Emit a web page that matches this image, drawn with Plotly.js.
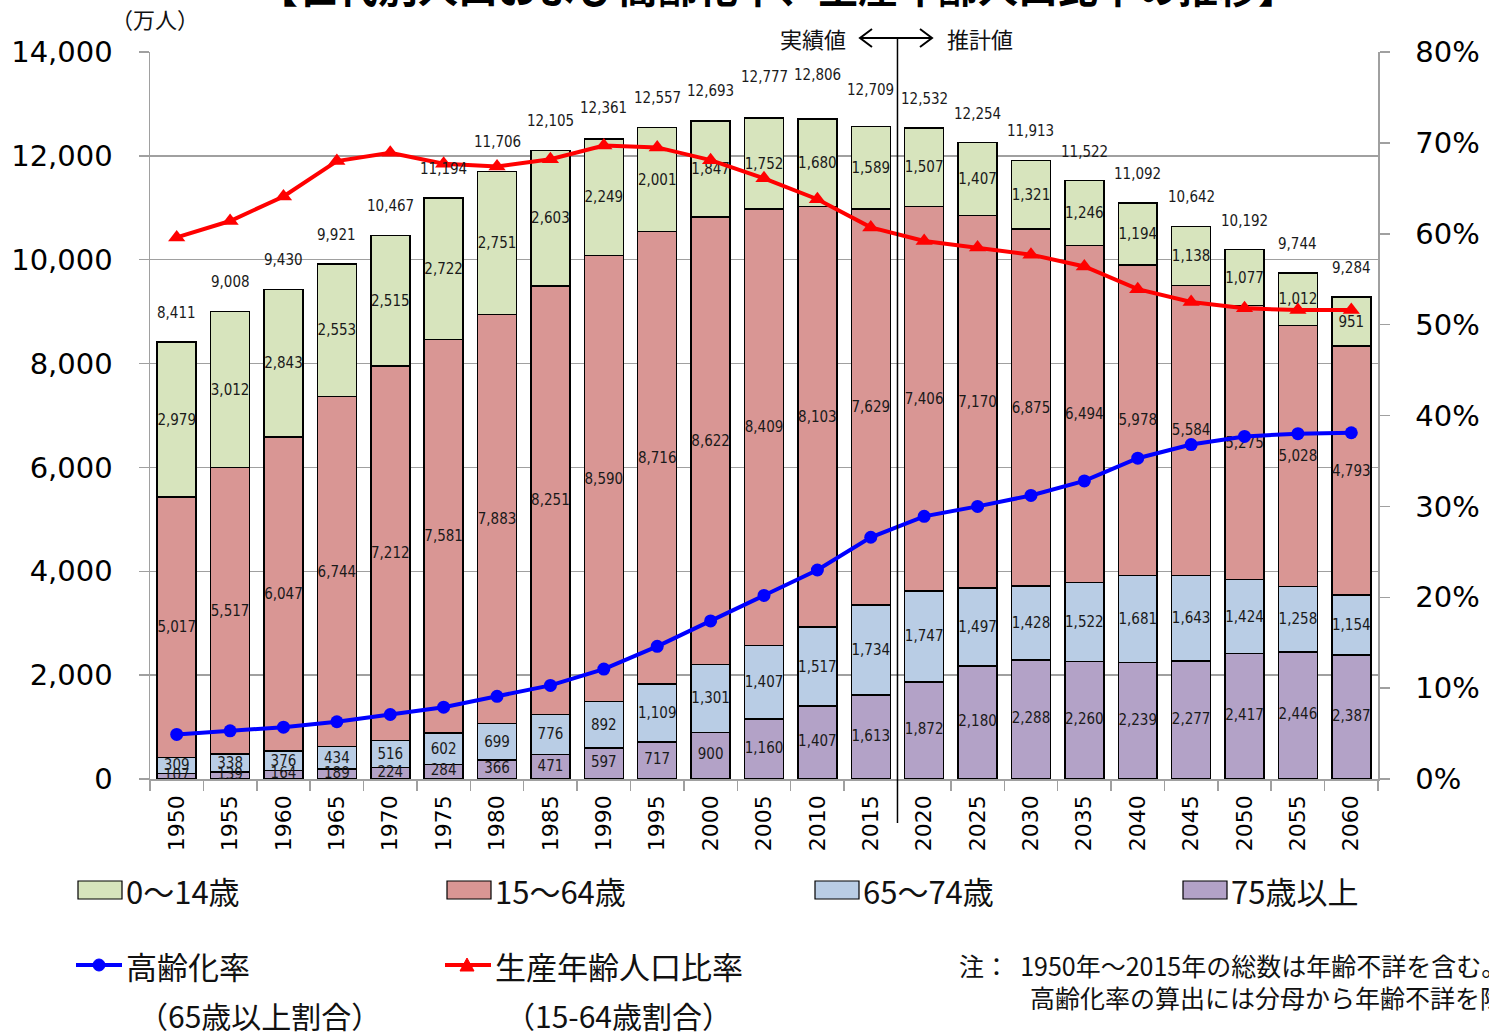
<!DOCTYPE html>
<html>
<head>
<meta charset="utf-8">
<script src="https://cdn.plot.ly/plotly-3.0.1.min.js"></script>
<style>html,body{margin:0;padding:0;background:#fff;}#chart{width:1489px;height:1032px;}</style>
</head>
<body>
<div id="chart"></div>
<script>
const years = ['1950','1955','1960','1965','1970','1975','1980','1985','1990','1995','2000','2005','2010','2015','2020','2025','2030','2035','2040','2045','2050','2055','2060'];
const age0_14  = [2979,3012,2843,2553,2515,2722,2751,2603,2249,2001,1847,1752,1680,1589,1507,1407,1321,1246,1194,1138,1077,1012,951];
const age15_64 = [5017,5517,6047,6744,7212,7581,7883,8251,8590,8716,8622,8409,8103,7629,7406,7170,6875,6494,5978,5584,5275,5028,4793];
const age65_74 = [309,338,376,434,516,602,699,776,892,1109,1301,1407,1517,1734,1747,1497,1428,1522,1681,1643,1424,1258,1154];
const age75up  = [107,139,164,189,224,284,366,471,597,717,900,1160,1407,1613,1872,2180,2288,2260,2239,2277,2417,2446,2387];
const totals   = [8411,9008,9430,9921,10467,11194,11706,12105,12361,12557,12693,12777,12806,12709,12532,12254,11913,11522,11092,10642,10192,9744,9284];
const agingRate   = [4.9,5.3,5.7,6.3,7.1,7.9,9.1,10.3,12.1,14.6,17.4,20.2,23.0,26.6,28.9,30.0,31.2,32.8,35.3,36.8,37.7,38.0,38.1];
const workingRate = [59.6,61.4,64.1,68.0,68.9,67.7,67.4,68.2,69.7,69.5,68.1,66.1,63.8,60.7,59.2,58.5,57.7,56.4,53.9,52.5,51.8,51.6,51.6];

const seriesNames = ['75歳以上','65～74歳','15～64歳','0～14歳'];
const seriesColors = ['#B3A2C7','#B9CDE5','#D99694','#D7E4BD'];
const seriesValues = [age75up, age65_74, age15_64, age0_14];

const NUMFONT = 'DejaVu Sans Condensed, Liberation Sans Narrow, DejaVu Sans, sans-serif';
const JPFONT = 'Noto Sans CJK JP, sans-serif';

const traces = seriesValues.map((vals, i) => ({
  type: 'bar', x: years, y: vals, name: seriesNames[i],
  marker: {color: seriesColors[i], line: {color: '#000', width: 1.5}},
  texttemplate: i === 0 ? '' : '%{y:,}', textposition: i === 0 ? 'none' : 'inside', insidetextanchor: 'middle',
  textangle: 0, constraintext: 'none', cliponaxis: false,
  insidetextfont: {family: NUMFONT, size: 15, color: '#1a1a1a'},
  hoverinfo: 'skip', showlegend: false
}));

// labels of the bottom (75+) segment, drawn on top so small segments stay readable
traces.push({
  type: 'scatter', mode: 'text', x: years, y: age75up.map(v => v / 2),
  text: age75up.map(v => v.toLocaleString('en-US')), textposition: 'middle center',
  textfont: {family: NUMFONT, size: 15, color: '#1a1a1a'}, cliponaxis: false,
  hoverinfo: 'skip', showlegend: false
});

traces.push({
  type: 'scatter', mode: 'lines+markers', x: years, y: agingRate, yaxis: 'y2',
  name: '高齢化率', line: {color: '#0000FF', width: 4},
  marker: {symbol: 'circle', size: 13, color: '#0000FF'}, showlegend: false, cliponaxis: false
});
traces.push({
  type: 'scatter', mode: 'lines+markers', x: years, y: workingRate, yaxis: 'y2',
  name: '生産年齢人口比率', line: {color: '#FF0000', width: 4},
  marker: {symbol: 'triangle-up', size: 15, color: '#FF0000'}, showlegend: false, cliponaxis: false
});

// plot-area geometry helpers (pixels -> paper)
const L = 150, R = 1378, T = 52, B = 779;
const px = v => (v - L) / (R - L);
const py = v => (B - v) / (B - T);

const annotations = totals.map((t, i) => ({
  x: i, y: t, xref: 'x', yref: 'y', text: t.toLocaleString('en-US'),
  showarrow: false, yanchor: 'bottom', yshift: (i === 11 || i === 12) ? 28 : 18,
  font: {family: NUMFONT, size: 15, color: '#1a1a1a'}
}));

function txt(x, y, text, size, anchor, opts) {
  return Object.assign({x: px(x), y: py(y), xref: 'paper', yref: 'paper', text: text,
    showarrow: false, xanchor: anchor || 'left', yanchor: 'middle',
    font: {family: JPFONT, size: size, color: '#111'}}, opts || {});
}

annotations.push(txt(778, -14, '【世代別人口および高齢化率、生産年齢人口比率の推移】', 40, 'center', {font: {family: JPFONT, size: 40, color: '#000', weight: 'bold'}}));
annotations.push(txt(155, 18, '（万人）', 22, 'center'));
annotations.push(txt(848, 38, '実績値', 22, 'right'));
annotations.push(txt(945, 38, '推計値', 22, 'left'));

// legend texts
annotations.push(txt(124, 890, '0～14歳', 31));
annotations.push(txt(493, 890, '15～64歳', 31));
annotations.push(txt(861, 890, '65～74歳', 31));
annotations.push(txt(1229, 890, '75歳以上', 31));
annotations.push(txt(124, 965, '高齢化率', 31));
annotations.push(txt(493, 965, '生産年齢人口比率', 31));
annotations.push(txt(136, 1015, '（65歳以上割合）', 30));
annotations.push(txt(503, 1015, '（15-64歳割合）', 30));
annotations.push(txt(957, 965, '注：  1950年～2015年の総数は年齢不詳を含む。', 25));
annotations.push(txt(1028, 997, '高齢化率の算出には分母から年齢不詳を除いている。', 25));

const shapes = [];
// divider between actual and estimated
shapes.push({type: 'line', xref: 'x', yref: 'paper', x0: 13.5, x1: 13.5, y0: py(823), y1: py(38),
  line: {color: '#000', width: 1.5}, layer: 'above'});
// double arrow
shapes.push({type: 'path', xref: 'paper', yref: 'paper',
  path: `M${px(860)},${py(38)} L${px(932)},${py(38)} M${px(872)},${py(29)} L${px(860)},${py(38)} L${px(872)},${py(47)} M${px(920)},${py(29)} L${px(932)},${py(38)} L${px(920)},${py(47)}`,
  line: {color: '#000', width: 2}});
// legend boxes
const boxX = [78, 447, 815, 1183];
const boxColors = ['#D7E4BD','#D99694','#B9CDE5','#B3A2C7'];
boxX.forEach((x, i) => shapes.push({type: 'rect', xref: 'paper', yref: 'paper',
  x0: px(x), x1: px(x + 44), y0: py(899), y1: py(881), fillcolor: boxColors[i], line: {color: '#000', width: 1.2}}));
// legend lines
shapes.push({type: 'line', xref: 'paper', yref: 'paper', x0: px(76), x1: px(122), y0: py(965), y1: py(965), line: {color: '#0000FF', width: 4}});
shapes.push({type: 'circle', xref: 'paper', yref: 'paper', x0: px(93), x1: px(105), y0: py(971), y1: py(959), fillcolor: '#0000FF', line: {color: '#0000FF', width: 1}});
shapes.push({type: 'line', xref: 'paper', yref: 'paper', x0: px(445), x1: px(491), y0: py(965), y1: py(965), line: {color: '#FF0000', width: 4}});
shapes.push({type: 'path', xref: 'paper', yref: 'paper', path: `M${px(460)},${py(971)} L${px(474)},${py(971)} L${px(467)},${py(958)} Z`, fillcolor: '#FF0000', line: {color: '#FF0000', width: 1}});

const layout = {
  width: 1489, height: 1032,
  margin: {l: L, r: 1489 - R, t: T, b: 1032 - B},
  paper_bgcolor: '#fff', plot_bgcolor: '#fff',
  barmode: 'stack', bargap: 0.27,
  showlegend: false,
  xaxis: {type: 'category', range: [-0.5, 22.5], autorange: false, tickangle: -90, tickson: 'boundaries', ticks: 'outside', ticklen: 10,
    tickcolor: '#a0a0a0', tickwidth: 1.5, showline: true, linecolor: '#a0a0a0', linewidth: 1.5, ticklabelstandoff: 6,
    tickfont: {family: 'DejaVu Sans, sans-serif', size: 22, color: '#000'}, showgrid: false, fixedrange: true},
  yaxis: {range: [0, 14000], autorange: false, dtick: 2000, tickformat: ',', ticks: 'outside', ticklen: 10,
    tickcolor: '#a0a0a0', tickwidth: 1.5, showline: true, linecolor: '#a0a0a0', linewidth: 1.5,
    showgrid: true, gridcolor: '#a0a0a0', gridwidth: 1.5, zeroline: false, ticklabelstandoff: 20,
    tickfont: {family: 'DejaVu Sans, sans-serif', size: 29, color: '#000'}},
  yaxis2: {range: [0, 80], autorange: false, dtick: 10, ticksuffix: '%', overlaying: 'y', side: 'right',
    ticks: 'outside', ticklen: 10, tickcolor: '#a0a0a0', tickwidth: 1.5, showline: true,
    linecolor: '#a0a0a0', linewidth: 1.5, showgrid: false, zeroline: false, ticklabelstandoff: 20,
    tickfont: {family: 'DejaVu Sans, sans-serif', size: 29, color: '#000'}},
  annotations: annotations,
  shapes: shapes
};

Plotly.newPlot('chart', traces, layout, {displayModeBar: false, staticPlot: true});
</script>
</body>
</html>
